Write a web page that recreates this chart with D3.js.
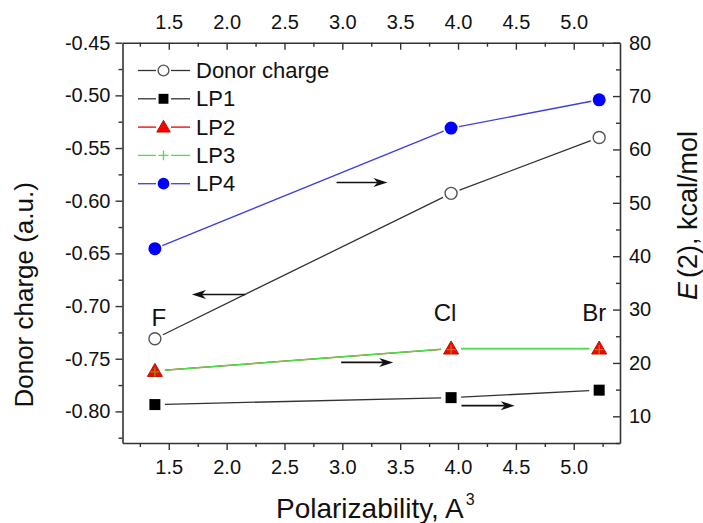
<!DOCTYPE html>
<html>
<head>
<meta charset="utf-8">
<script src="https://cdn.jsdelivr.net/npm/d3@7"></script>
<style>
  html, body { margin: 0; padding: 0; background: #fff; }
  svg { display: block; font-family: "Liberation Sans", Arial, sans-serif; }
</style>
</head>
<body>
<svg id="chart" width="703" height="523"></svg>
<script>
// Halogen donors and their polarizabilities (Å^3)
const elements = ["F", "Cl", "Br"];
const polarizability = [1.38, 3.94, 5.22];

// Donor charge (a.u.) – left axis
const donorCharge = [-0.731, -0.593, -0.540];

// Second-order interaction energies E(2), kcal/mol – right axis
const lp1 = [12.2, 13.5, 14.9];
const lp2 = [18.5, 22.7, 22.7];
const lp3 = [18.5, 22.7, 22.7];
const lp4 = [41.4, 64.0, 69.3];

// Axis ticks
const xTicks = [1.5, 2.0, 2.5, 3.0, 3.5, 4.0, 4.5, 5.0];
const yLeftTicks = [-0.45, -0.50, -0.55, -0.60, -0.65, -0.70, -0.75, -0.80];
const yRightTicks = [10, 20, 30, 40, 50, 60, 70, 80];

// Arrows pointing each curve to its axis: [x0, x1, y, axis]
const arrowsX0 = [2.95, 2.16, 2.99, 4.03];
const arrowsX1 = [3.39, 1.70, 3.44, 4.49];
const arrowsY = [53.8, -0.689, 20.1, 12.0];
const arrowsAxis = ["right", "left", "right", "right"];

const svg = d3.select("#chart");
const L = 122.5, R = 620, T = 42.7, B = 443;

const x = d3.scaleLinear().domain([1.1, 5.4]).range([L, R]);
const yL = d3.scaleLinear().domain([-0.83, -0.45]).range([B, T]);
const yR = d3.scaleLinear().domain([5, 80]).range([B, T]);

const axisColor = "#333";
const tickFont = 20;

function styleAxis(g) {
  g.selectAll("path.domain").attr("stroke", axisColor).attr("stroke-width", 1.6);
  g.selectAll(".tick line").attr("stroke", axisColor).attr("stroke-width", 1.4);
  g.selectAll(".tick text").attr("fill", "#111").style("font-size", tickFont + "px")
    .style("font-family", "'Liberation Sans', Arial, sans-serif");
}
const fmt2 = d3.format(".2f");
const fmt1 = d3.format(".1f");
// plain hyphen for negative labels
const hyphen = s => s.replace("\u2212", "-");

// minor ticks
const xMinor = d3.range(1.25, 5.4, 0.5);
const yLMinor = d3.range(-0.825, -0.45, 0.05);
const yRMinor = d3.range(5, 80, 10);

// bottom axis (outward ticks)
svg.append("g").attr("transform", `translate(0,${B})`)
  .call(d3.axisBottom(x).tickValues(xTicks).tickFormat(fmt1).tickSize(7).tickSizeOuter(0).tickPadding(10))
  .call(styleAxis);
svg.append("g").attr("transform", `translate(0,${B})`)
  .call(d3.axisBottom(x).tickValues(xMinor).tickFormat("").tickSize(4).tickSizeOuter(0))
  .call(styleAxis).select("path.domain").remove();

// top axis (inward ticks, labelled)
svg.append("g").attr("transform", `translate(0,${T})`)
  .call(d3.axisTop(x).tickValues(xTicks).tickFormat(fmt1).tickSize(-7).tickSizeOuter(0).tickPadding(14))
  .call(styleAxis);
svg.append("g").attr("transform", `translate(0,${T})`)
  .call(d3.axisTop(x).tickValues(xMinor).tickFormat("").tickSize(-4).tickSizeOuter(0))
  .call(styleAxis).select("path.domain").remove();

// left axis (outward ticks)
svg.append("g").attr("transform", `translate(${L},0)`)
  .call(d3.axisLeft(yL).tickValues(yLeftTicks).tickFormat(d => hyphen(fmt2(d))).tickSize(7).tickSizeOuter(0).tickPadding(5))
  .call(styleAxis);
svg.append("g").attr("transform", `translate(${L},0)`)
  .call(d3.axisLeft(yL).tickValues(yLMinor).tickFormat("").tickSize(4).tickSizeOuter(0))
  .call(styleAxis).select("path.domain").remove();

// right axis (inward ticks)
svg.append("g").attr("transform", `translate(${R},0)`)
  .call(d3.axisRight(yR).tickValues(yRightTicks).tickFormat(d3.format("d")).tickSize(-7).tickSizeOuter(0).tickPadding(9))
  .call(styleAxis);
svg.append("g").attr("transform", `translate(${R},0)`)
  .call(d3.axisRight(yR).tickValues(yRMinor).tickFormat("").tickSize(-4).tickSizeOuter(0))
  .call(styleAxis).select("path.domain").remove();

// axis titles
svg.append("text")
  .attr("transform", `translate(33,${(T + B) / 2 + 52}) rotate(-90)`)
  .attr("text-anchor", "middle").style("font-size", "26px").attr("fill", "#111")
  .text("Donor charge (a.u.)");

const rt = svg.append("text")
  .attr("transform", `translate(697,300) rotate(-90)`)
  .attr("text-anchor", "start").style("font-size", "27px").attr("fill", "#111");
rt.append("tspan").style("font-style", "italic").text("E");
rt.append("tspan").attr("dx", 4).text("(2), kcal/mol");

const bt = svg.append("text")
  .attr("x", 276).attr("y", 518).style("font-size", "28px").attr("fill", "#111");
bt.append("tspan").text("Polarizability, A");
bt.append("tspan").attr("dy", -13).attr("dx", 2).style("font-size", "16px").text("3");

// series drawing helpers
const pts = (vals, ys) => polarizability.map((p, i) => [x(p), ys(vals[i])]);

function gappedLines(points, color, width, gap) {
  const g = svg.append("g");
  for (let i = 0; i < points.length - 1; i++) {
    const [x0, y0] = points[i], [x1, y1] = points[i + 1];
    const dx = x1 - x0, dy = y1 - y0, len = Math.hypot(dx, dy);
    const ux = dx / len, uy = dy / len;
    g.append("line")
      .attr("x1", x0 + ux * gap).attr("y1", y0 + uy * gap)
      .attr("x2", x1 - ux * gap).attr("y2", y1 - uy * gap)
      .attr("stroke", color).attr("stroke-width", width);
  }
}

const markers = {
  donor: (g, cx, cy, s = 1) => g.append("circle").attr("cx", cx).attr("cy", cy).attr("r", 6 * s)
    .attr("fill", "#fff").attr("stroke", "#555").attr("stroke-width", 1.4),
  lp1: (g, cx, cy, s = 1) => g.append("rect").attr("x", cx - 5.5 * s).attr("y", cy - 5.5 * s)
    .attr("width", 11 * s).attr("height", 11 * s).attr("fill", "#000"),
  lp2: (g, cx, cy, s = 1) => g.append("path")
    .attr("d", `M${cx},${cy - 7.5 * s}L${cx + 7.5 * s},${cy + 5.5 * s}L${cx - 7.5 * s},${cy + 5.5 * s}Z`)
    .attr("fill", "#f00").attr("stroke", "#b01a00").attr("stroke-width", 1),
  lp3: (g, cx, cy, s = 1, c = "#7a9a10") => g.append("path")
    .attr("d", `M${cx - 4.5 * s},${cy}H${cx + 4.5 * s}M${cx},${cy - 4.5 * s}V${cy + 4.5 * s}`)
    .attr("stroke", c).attr("stroke-width", 1.3).attr("fill", "none"),
  lp4: (g, cx, cy, s = 1) => g.append("circle").attr("cx", cx).attr("cy", cy).attr("r", 6.5 * s)
    .attr("fill", "#0000ff")
};

// lines
const pDonor = pts(donorCharge, yL);
const p1 = pts(lp1, yR), p2 = pts(lp2, yR), p3 = pts(lp3, yR), p4 = pts(lp4, yR);
gappedLines(pDonor, "#333", 1.3, 9);
gappedLines(p1, "#333", 1.3, 10);
gappedLines(p2, "#e00", 1.3, 10);
gappedLines(p3, "#4be04b", 1.6, 10);
gappedLines(p4, "#4040e0", 1.4, 8);

// markers
const mg = svg.append("g");
pDonor.forEach(([cx, cy]) => markers.donor(mg, cx, cy));
p1.forEach(([cx, cy]) => markers.lp1(mg, cx, cy));
p2.forEach(([cx, cy]) => markers.lp2(mg, cx, cy));
p3.forEach(([cx, cy]) => markers.lp3(mg, cx, cy + 1));
p4.forEach(([cx, cy]) => markers.lp4(mg, cx, cy));

// element labels
const labelPos = [
  { dx: 4, y: 326, anchor: "middle" },
  { dx: -6, y: 321, anchor: "middle" },
  { dx: 7, y: 321, anchor: "end" }
];
elements.forEach((el, i) => {
  svg.append("text").attr("x", x(polarizability[i]) + labelPos[i].dx).attr("y", labelPos[i].y)
    .attr("text-anchor", labelPos[i].anchor).style("font-size", "24px").attr("fill", "#111").text(el);
});

// arrows
arrowsX0.forEach((a, i) => {
  const ys = arrowsAxis[i] === "left" ? yL : yR;
  const x0 = x(a), x1 = x(arrowsX1[i]), yy = ys(arrowsY[i]);
  const dir = Math.sign(x1 - x0);
  const head = 14, hw = 4.5, notch = 4;
  svg.append("line").attr("x1", x0).attr("y1", yy).attr("x2", x1 - dir * (head - notch)).attr("y2", yy)
    .attr("stroke", "#111").attr("stroke-width", 1.6);
  svg.append("path")
    .attr("d", `M${x1},${yy}L${x1 - dir * head},${yy - hw}L${x1 - dir * (head - notch)},${yy}L${x1 - dir * head},${yy + hw}Z`)
    .attr("fill", "#111");
});

// legend
const legendItems = [
  { key: "donor", label: "Donor charge", color: "#333" },
  { key: "lp1", label: "LP1", color: "#333" },
  { key: "lp2", label: "LP2", color: "#e00" },
  { key: "lp3", label: "LP3", color: "#4be04b" },
  { key: "lp4", label: "LP4", color: "#4040e0" }
];
const lg = svg.append("g");
legendItems.forEach((it, i) => {
  const cy = 70.5 + i * 28.3;
  lg.append("line").attr("x1", 138).attr("x2", 156).attr("y1", cy).attr("y2", cy)
    .attr("stroke", it.color).attr("stroke-width", 1.3);
  lg.append("line").attr("x1", 171).attr("x2", 190).attr("y1", cy).attr("y2", cy)
    .attr("stroke", it.color).attr("stroke-width", 1.3);
  if (it.key === "lp3") markers.lp3(lg, 163.5, cy, 1.1, "#4be04b");
  else markers[it.key](lg, 163.5, cy, 0.9);
  lg.append("text").attr("x", 196).attr("y", cy + 7.5).style("font-size", "22px").attr("fill", "#111").text(it.label);
});
</script>
</body>
</html>
